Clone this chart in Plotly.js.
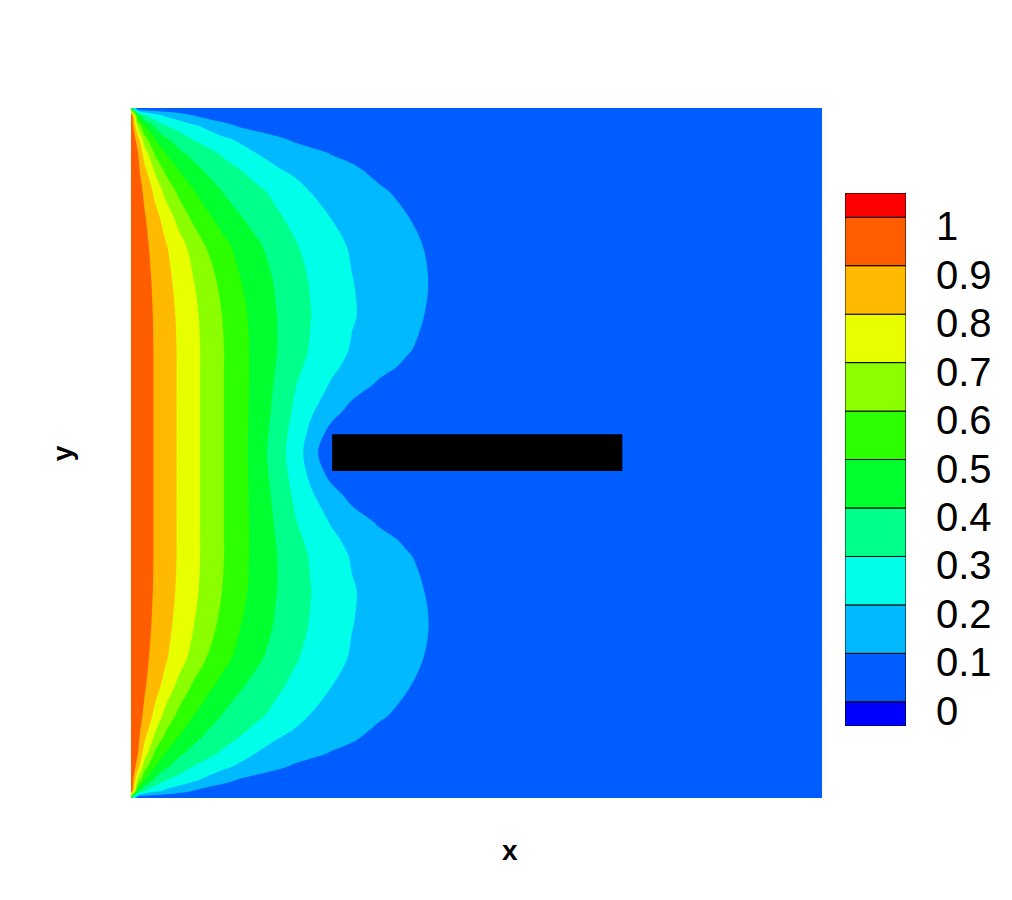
<!DOCTYPE html>
<html>
<head>
<meta charset="utf-8">
<script src="https://cdn.plot.ly/plotly-3.0.1.min.js"></script>
<style>
  html, body { margin: 0; padding: 0; background: #fff; }
  #chart { width: 1012px; height: 900px; }
</style>
</head>
<body>
<div id="chart"></div>
<script>
// grid columns / rows (normalised domain 0..1)
const xs = [0, 0.01, 0.02, 0.035, 0.05, 0.07, 0.09, 0.11, 0.135, 0.16, 0.185, 0.21, 0.235, 0.26, 0.29, 0.32, 0.36, 0.4, 0.44, 0.5, 0.6, 0.75, 1];
const ys = [0, 0.01, 0.025, 0.045, 0.065, 0.09, 0.12, 0.16, 0.2, 0.25, 0.3, 0.35, 0.375, 0.4, 0.44, 0.47, 0.5,
            0.53, 0.56, 0.6, 0.625, 0.65, 0.7, 0.75, 0.8, 0.84, 0.88, 0.91, 0.935, 0.955, 0.975, 0.99, 1];

// field values, one row per entry of ys (bottom to top)
const zRows = [
  [0.45, 0, 0, 0, 0, 0, 0, 0, 0, 0, 0, 0, 0, 0, 0, 0, 0, 0, 0, 0, 0, 0, 0],
  [1, 0.444, 0.299, 0.225, 0.179, 0.137, 0.095, 0.058, 0.035, 0.03, 0.026, 0.023, 0.021, 0.019, 0.017, 0.015, 0.013, 0.011, 0.01, 0.008, 0.006, 0.003, 0],
  [1, 0.667, 0.493, 0.373, 0.299, 0.255, 0.211, 0.172, 0.124, 0.082, 0.057, 0.038, 0.034, 0.031, 0.028, 0.025, 0.022, 0.019, 0.017, 0.014, 0.01, 0.005, 0],
  [1, 0.842, 0.633, 0.498, 0.416, 0.351, 0.296, 0.26, 0.215, 0.179, 0.149, 0.118, 0.088, 0.066, 0.055, 0.05, 0.044, 0.039, 0.035, 0.03, 0.022, 0.012, 0],
  [1, 0.903, 0.747, 0.584, 0.498, 0.418, 0.369, 0.33, 0.281, 0.233, 0.193, 0.169, 0.146, 0.122, 0.095, 0.081, 0.07, 0.062, 0.055, 0.047, 0.035, 0.019, 0],
  [1, 0.926, 0.822, 0.683, 0.581, 0.497, 0.436, 0.385, 0.342, 0.298, 0.254, 0.21, 0.184, 0.162, 0.137, 0.112, 0.08, 0.068, 0.06, 0.052, 0.04, 0.023, 0],
  [1, 0.942, 0.879, 0.771, 0.669, 0.572, 0.505, 0.451, 0.391, 0.353, 0.315, 0.275, 0.235, 0.197, 0.171, 0.144, 0.109, 0.08, 0.067, 0.057, 0.044, 0.026, 0],
  [1, 0.953, 0.907, 0.836, 0.761, 0.664, 0.582, 0.521, 0.46, 0.404, 0.361, 0.318, 0.279, 0.243, 0.199, 0.173, 0.138, 0.103, 0.066, 0.058, 0.046, 0.028, 0],
  [1, 0.961, 0.921, 0.865, 0.809, 0.737, 0.664, 0.594, 0.523, 0.463, 0.41, 0.361, 0.312, 0.273, 0.228, 0.19, 0.155, 0.12, 0.084, 0.068, 0.052, 0.031, 0],
  [1, 0.966, 0.932, 0.881, 0.831, 0.766, 0.704, 0.64, 0.566, 0.498, 0.443, 0.39, 0.34, 0.293, 0.248, 0.202, 0.164, 0.127, 0.092, 0.074, 0.056, 0.034, 0],
  [1, 0.968, 0.937, 0.889, 0.843, 0.782, 0.723, 0.663, 0.59, 0.52, 0.46, 0.403, 0.352, 0.302, 0.255, 0.207, 0.165, 0.125, 0.084, 0.068, 0.052, 0.031, 0],
  [1, 0.969, 0.938, 0.892, 0.847, 0.788, 0.729, 0.671, 0.599, 0.528, 0.464, 0.404, 0.347, 0.292, 0.24, 0.192, 0.15, 0.108, 0.063, 0.052, 0.041, 0.025, 0],
  [1, 0.969, 0.938, 0.892, 0.847, 0.788, 0.729, 0.671, 0.599, 0.529, 0.463, 0.398, 0.331, 0.275, 0.218, 0.175, 0.126, 0.084, 0.058, 0.046, 0.036, 0.022, 0],
  [1, 0.969, 0.938, 0.892, 0.847, 0.788, 0.729, 0.671, 0.599, 0.53, 0.46, 0.389, 0.312, 0.254, 0.192, 0.146, 0.087, 0.066, 0.05, 0.04, 0.032, 0.02, 0],
  [1, 0.969, 0.938, 0.892, 0.847, 0.788, 0.729, 0.671, 0.599, 0.53, 0.456, 0.375, 0.291, 0.213, 0.137, 0.067, 0.045, 0.036, 0.03, 0.026, 0.022, 0.016, 0],
  [1, 0.969, 0.938, 0.892, 0.847, 0.788, 0.729, 0.671, 0.599, 0.53, 0.45, 0.361, 0.272, 0.179, 0.065, 0.012, 0.008, 0.007, 0.006, 0.006, 0.005, 0.006, 0],
  [1, 0.969, 0.938, 0.892, 0.847, 0.788, 0.729, 0.671, 0.599, 0.53, 0.444, 0.352, 0.26, 0.153, 0.005, 0, 0, 0, 0, 0, 0, 0.004, 0],
  [1, 0.969, 0.938, 0.892, 0.847, 0.788, 0.729, 0.671, 0.599, 0.53, 0.45, 0.361, 0.272, 0.179, 0.065, 0.012, 0.008, 0.007, 0.006, 0.006, 0.005, 0.006, 0],
  [1, 0.969, 0.938, 0.892, 0.847, 0.788, 0.729, 0.671, 0.599, 0.53, 0.456, 0.375, 0.291, 0.213, 0.137, 0.067, 0.045, 0.036, 0.03, 0.026, 0.022, 0.016, 0],
  [1, 0.969, 0.938, 0.892, 0.847, 0.788, 0.729, 0.671, 0.599, 0.53, 0.46, 0.389, 0.312, 0.254, 0.192, 0.146, 0.087, 0.066, 0.05, 0.04, 0.032, 0.02, 0],
  [1, 0.969, 0.938, 0.892, 0.847, 0.788, 0.729, 0.671, 0.599, 0.529, 0.463, 0.398, 0.331, 0.275, 0.218, 0.175, 0.126, 0.084, 0.058, 0.046, 0.036, 0.022, 0],
  [1, 0.969, 0.938, 0.892, 0.847, 0.788, 0.729, 0.671, 0.599, 0.528, 0.464, 0.404, 0.347, 0.292, 0.24, 0.192, 0.15, 0.108, 0.063, 0.052, 0.041, 0.025, 0],
  [1, 0.968, 0.937, 0.889, 0.843, 0.782, 0.723, 0.663, 0.59, 0.52, 0.46, 0.403, 0.352, 0.302, 0.255, 0.207, 0.165, 0.125, 0.084, 0.068, 0.052, 0.031, 0],
  [1, 0.966, 0.932, 0.881, 0.831, 0.766, 0.704, 0.64, 0.566, 0.498, 0.443, 0.39, 0.34, 0.293, 0.248, 0.202, 0.164, 0.127, 0.091, 0.073, 0.055, 0.033, 0],
  [1, 0.961, 0.921, 0.865, 0.809, 0.737, 0.664, 0.594, 0.523, 0.463, 0.41, 0.361, 0.312, 0.273, 0.228, 0.19, 0.155, 0.12, 0.084, 0.068, 0.052, 0.031, 0],
  [1, 0.953, 0.907, 0.836, 0.761, 0.664, 0.582, 0.521, 0.46, 0.404, 0.361, 0.318, 0.279, 0.243, 0.199, 0.173, 0.138, 0.103, 0.066, 0.058, 0.046, 0.028, 0],
  [1, 0.942, 0.879, 0.771, 0.669, 0.572, 0.505, 0.451, 0.391, 0.353, 0.315, 0.275, 0.235, 0.197, 0.171, 0.144, 0.109, 0.08, 0.067, 0.057, 0.044, 0.026, 0],
  [1, 0.926, 0.822, 0.683, 0.581, 0.497, 0.436, 0.385, 0.342, 0.298, 0.254, 0.21, 0.184, 0.162, 0.137, 0.112, 0.08, 0.068, 0.06, 0.052, 0.04, 0.023, 0],
  [1, 0.903, 0.747, 0.584, 0.498, 0.418, 0.369, 0.33, 0.281, 0.233, 0.193, 0.169, 0.146, 0.122, 0.095, 0.081, 0.07, 0.062, 0.055, 0.047, 0.035, 0.019, 0],
  [1, 0.842, 0.633, 0.498, 0.416, 0.351, 0.296, 0.26, 0.215, 0.179, 0.149, 0.118, 0.088, 0.066, 0.055, 0.05, 0.044, 0.039, 0.035, 0.03, 0.022, 0.012, 0],
  [1, 0.667, 0.493, 0.373, 0.299, 0.255, 0.211, 0.172, 0.124, 0.082, 0.057, 0.038, 0.034, 0.031, 0.028, 0.025, 0.022, 0.019, 0.017, 0.014, 0.01, 0.005, 0],
  [1, 0.444, 0.299, 0.225, 0.179, 0.137, 0.095, 0.058, 0.035, 0.03, 0.026, 0.023, 0.021, 0.019, 0.017, 0.015, 0.013, 0.011, 0.01, 0.008, 0.006, 0.003, 0],
  [0.45, 0, 0, 0, 0, 0, 0, 0, 0, 0, 0, 0, 0, 0, 0, 0, 0, 0, 0, 0, 0, 0, 0]
];

// contour levels and legend labels
const levels = [0, 0.1, 0.2, 0.3, 0.4, 0.5, 0.6, 0.7, 0.8, 0.9, 1];
const levelLabels = ['0', '0.1', '0.2', '0.3', '0.4', '0.5', '0.6', '0.7', '0.8', '0.9', '1'];

// band colours: below 0, then each band up to above 1
const bandColors = [
  'rgb(0,0,255)', 'rgb(0,93,255)', 'rgb(0,185,255)', 'rgb(0,255,232)',
  'rgb(0,255,139)', 'rgb(0,255,46)', 'rgb(46,255,0)', 'rgb(139,255,0)',
  'rgb(232,255,0)', 'rgb(255,186,0)', 'rgb(255,93,0)', 'rgb(255,0,0)'
];

// black obstacle
const obstacleX = [0.291, 0.711];
const obstacleY = [0.474, 0.527];

const FONT = 'Arial, "Liberation Sans", sans-serif';

// step colour scale for the filled bands from 0 upward
const fillColors = bandColors.slice(1);
const stepScale = [];
fillColors.forEach((c, i) => {
  stepScale.push([i / fillColors.length, c]);
  stepScale.push([(i + 1) / fillColors.length, c]);
});

const step = levels[1] - levels[0];

const field = {
  type: 'contour',
  x: xs,
  y: ys,
  z: zRows,
  zauto: false,
  zmin: levels[1] - step / 2,
  zmax: levels[levels.length - 1] + step / 2,
  colorscale: stepScale,
  contours: {
    coloring: 'fill',
    showlines: false,
    start: levels[1],
    end: levels[levels.length - 1],
    size: step
  },
  line: { width: 0, smoothing: 1 },
  showscale: false,
  hoverinfo: 'skip',
  xaxis: 'x',
  yaxis: 'y'
};

const obstacle = {
  type: 'scatter',
  x: [obstacleX[0], obstacleX[1], obstacleX[1], obstacleX[0], obstacleX[0]],
  y: [obstacleY[0], obstacleY[0], obstacleY[1], obstacleY[1], obstacleY[0]],
  mode: 'lines',
  fill: 'toself',
  fillcolor: '#000000',
  line: { color: '#000000', width: 0 },
  hoverinfo: 'skip',
  showlegend: false,
  xaxis: 'x',
  yaxis: 'y'
};

// legend bar: one stacked block per band, half blocks at both ends
const legendEdges = [levels[0] - step / 2, ...levels, levels[levels.length - 1] + step / 2];
const legendBars = {
  type: 'bar',
  x: bandColors.map(() => 0),
  base: legendEdges.slice(0, -1),
  y: legendEdges.slice(1).map((e, i) => e - legendEdges[i]),
  width: 1,
  marker: { color: bandColors, line: { color: '#000000', width: 1 } },
  hoverinfo: 'skip',
  showlegend: false,
  xaxis: 'x2',
  yaxis: 'y2'
};

const layout = {
  width: 1012,
  height: 900,
  margin: { l: 131, r: 12, t: 108, b: 102 },
  paper_bgcolor: '#ffffff',
  plot_bgcolor: '#ffffff',
  showlegend: false,
  font: { family: FONT, color: '#000000' },
  xaxis: {
    domain: [0, 0.7952],
    range: [0, 1],
    showgrid: false, zeroline: false, showticklabels: false, ticks: '', showline: false
  },
  yaxis: {
    domain: [0, 1],
    range: [0, 1],
    showgrid: false, zeroline: false, showticklabels: false, ticks: '', showline: false
  },
  xaxis2: {
    domain: [0.8216, 0.8918],
    anchor: 'y2',
    range: [-0.5, 0.5],
    showgrid: false, zeroline: false, showticklabels: false, ticks: '', showline: false
  },
  yaxis2: {
    domain: [0.1043, 0.8768],
    anchor: 'x2',
    side: 'right',
    range: [legendEdges[0], legendEdges[legendEdges.length - 1]],
    tickmode: 'array',
    tickvals: levels,
    ticktext: levelLabels,
    ticks: '',
    ticklabelstandoff: 29,
    ticklabelshift: 9,
    tickfont: { family: FONT, size: 40, color: '#000000' },
    showgrid: false, zeroline: false, showline: false
  },
  annotations: [
    {
      text: 'x', xref: 'paper', yref: 'paper', x: 0.4361, y: -0.0754,
      xanchor: 'center', yanchor: 'middle', showarrow: false,
      font: { family: FONT, size: 28, weight: 'bold', color: '#000000' }
    },
    {
      text: 'y', xref: 'paper', yref: 'paper', x: -0.079, y: 0.5,
      xanchor: 'center', yanchor: 'middle', showarrow: false, textangle: -90,
      font: { family: FONT, size: 28, weight: 'bold', color: '#000000' }
    }
  ]
};

Plotly.newPlot('chart', [field, obstacle, legendBars], layout, { displayModeBar: false, staticPlot: true });
</script>
</body>
</html>
